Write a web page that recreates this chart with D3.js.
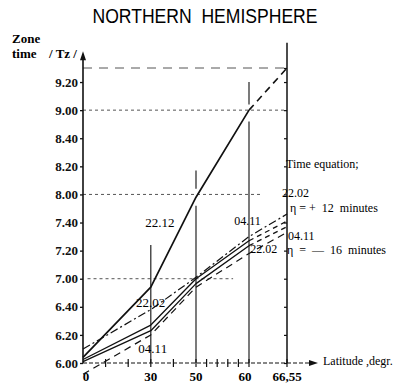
<!DOCTYPE html>
<html><head><meta charset="utf-8">
<script src="https://cdn.jsdelivr.net/npm/d3@7"></script>
<style>body{margin:0;background:#fff} text{white-space:pre}</style>
</head><body><svg id="c" width="400" height="390"></svg>
<script>
// ---- data (latitude in degrees, time in minutes after 6.00 zone time) ----
const latStops = [0, 30, 50, 60, 66.55];
const latLabels = ["0", "30", "50", "60", "66,55"];
const latMinor = [10, 20, 40, 52, 54, 56, 58];
const timeTicks = [0, 20, 40, 60, 80, 100, 120, 140, 160, 180, 200];
const timeLabels = ["6.00", "6.20", "6.40", "7.00", "7.20", "7.40", "8.00", "8.20", "8.40", "9.00", "9.20"];

const dec22Lat = [0, 30, 50, 60];
const dec22 = [4, 54, 118, 180];
const dec22ExtLat = [60, 66.55];
const dec22Ext = [180, 210];

const feb22Lat = [0, 30, 50, 60];
const feb22 = [2.5, 27, 60, 87];
const feb22ExtLat = [60, 66.55];
const feb22Ext = [87, 101];

const nov04Lat = [0, 30, 50, 60];
const nov04 = [1, 23, 56.5, 83.5];
const nov04ExtLat = [60, 66.55];
const nov04Ext = [83.5, 97];

const feb22EqLat = [0, 30, 50, 60, 66.55];
const feb22Eq = [10, 38, 61, 90, 106];
const nov04EqLat = [0, 30, 50, 60, 66.55];
const nov04Eq = [-8, 20, 54, 78, 93];

// grid lines: [time, latFrom, latTo, dash]
const hGrid = [[210, 0, 66.55, "9,7"], [180, 0, 66.55, "3,3"], [120, 0, 62, "3,3"], [60, 2, 57, "3,3"]];
// vertical lines: [lat, timeFrom, timeTo]
const vGrid = [[30, 84, 0], [50, 137, 124], [50, 112, 0], [60, 200, 184], [60, 172, 0]];

// ---- chart ----
const svg = d3.select("#c");
const x = d3.scaleLinear().domain([0, 50, 60, 66.55]).range([83, 196, 249, 287]);
const y = d3.scaleLinear().domain([0, 210]).range([363, 68]);
const serif = "'Liberation Serif','Times New Roman',serif";

svg.append("text").attr("x", 205).attr("y", 23).attr("text-anchor", "middle")
  .attr("font-family", "'Liberation Sans',Arial,sans-serif").attr("font-size", 20)
  .attr("textLength", 225).attr("lengthAdjust", "spacingAndGlyphs")
  .text("NORTHERN  HEMISPHERE");

// horizontal grid
svg.append("g").selectAll("line").data(hGrid).join("line")
  .attr("x1", d => x(d[1])).attr("x2", d => x(d[2]))
  .attr("y1", d => y(d[0])).attr("y2", d => y(d[0]))
  .attr("stroke", "#555").attr("stroke-width", 1).attr("stroke-dasharray", d => d[3]);

// vertical lines
svg.append("g").selectAll("line").data(vGrid).join("line")
  .attr("x1", d => x(d[0])).attr("x2", d => x(d[0]))
  .attr("y1", d => y(d[1])).attr("y2", d => y(d[2]))
  .attr("stroke", "#222").attr("stroke-width", 1.2);

// right boundary line at 66.55
svg.append("line").attr("x1", x(66.55)).attr("x2", x(66.55))
  .attr("y1", y(228)).attr("y2", y(0)).attr("stroke", "#111").attr("stroke-width", 1.5);
const ra = svg.append("g").attr("transform", `translate(${x(66.55)},0)`)
  .call(d3.axisLeft(y).tickValues(timeTicks.concat([210])).tickFormat("").tickSize(3));
ra.select(".domain").remove();
ra.selectAll("line").attr("stroke", "#111").attr("stroke-width", 1.2);

// left axis
svg.append("line").attr("x1", x(0)).attr("x2", x(0)).attr("y1", y(0)).attr("y2", y(218))
  .attr("stroke", "#111").attr("stroke-width", 1.6);
svg.append("path").attr("fill", "#111")
  .attr("d", `M${x(0)},${y(222)} l-3,9 l6,0 z`);
const la = svg.append("g").attr("transform", `translate(${x(0)},0)`)
  .call(d3.axisLeft(y).tickValues(timeTicks).tickFormat((d, i) => timeLabels[i]).tickSize(3).tickPadding(2));
la.select(".domain").remove();
la.selectAll("line").attr("stroke", "#111").attr("stroke-width", 1.3);
la.selectAll("text").attr("font-family", serif).attr("font-size", 13).attr("font-weight", "bold").attr("fill", "#111");

// x axis (dashed with arrow)
svg.append("line").attr("x1", x(0)).attr("x2", 312).attr("y1", y(0)).attr("y2", y(0))
  .attr("stroke", "#111").attr("stroke-width", 1.2).attr("stroke-dasharray", "4,2");
svg.append("path").attr("fill", "#111").attr("d", `M318,${y(0)} l-9,-3 l0,6 z`);
svg.append("g").selectAll("line").data(latStops.slice(1).concat(latMinor)).join("line")
  .attr("x1", d => x(d)).attr("x2", d => x(d)).attr("y1", y(0) - 4).attr("y2", y(0) + 4)
  .attr("stroke", "#111").attr("stroke-width", 1.2);
svg.append("g").selectAll("text").data(latStops).join("text")
  .attr("x", d => x(d)).attr("dx", (d, i) => i === 0 ? 3 : (i === 3 ? -4 : 0))
  .attr("y", 381).attr("text-anchor", "middle")
  .attr("font-family", serif).attr("font-size", 13).attr("font-weight", "bold")
  .text((d, i) => latLabels[i]);

// axis titles
const txt = (t, px, py, size, bold, anchor) => svg.append("text").attr("x", px).attr("y", py)
  .attr("font-family", serif).attr("font-size", size).attr("font-weight", bold ? "bold" : "normal")
  .attr("text-anchor", anchor || "start").attr("fill", "#000").text(t);
txt("Zone", 12, 43, 13, true);
txt("time", 12, 58, 13, true);
txt("/ Tz /", 49, 58, 13, true);
txt("Latitude ,degr.", 323, 365, 12, false);

// series
const line = d3.line().x(d => x(d[0])).y(d => y(d[1]));
const zip = (a, b) => a.map((v, i) => [v, b[i]]);
const draw = (lat, val, w, dash) => svg.append("path").datum(zip(lat, val))
  .attr("d", line).attr("fill", "none").attr("stroke", "#111").attr("stroke-width", w)
  .attr("stroke-dasharray", dash || null).attr("stroke-linejoin", "round");

draw(dec22Lat, dec22, 1.7);
draw(dec22ExtLat, dec22Ext, 1.6, "7,5");
draw(feb22Lat, feb22, 1.3);
draw(feb22ExtLat, feb22Ext, 1.3, "5,4");
draw(nov04Lat, nov04, 1.3);
draw(nov04ExtLat, nov04Ext, 1.3, "5,4");
draw(feb22EqLat, feb22Eq, 1.2, "8,3,2,3");
draw(nov04EqLat, nov04Eq, 1.2, "7,5");

// annotations
txt("22.12", x(27.5), y(97), 13, false);
txt("22.02", x(23.5), y(40), 13, false);
txt("04.11", x(24.5), y(7), 13, false);
txt("04.11", x(57.2), y(98), 12, false);
txt("22.02", x(60.2), y(78), 12, false);
txt("Time equation;", x(66.55) - 1, 168, 12, false);
txt("22.02", 282, 197, 12, false);
txt("\u03B7 = +  12  minutes", 290, 212, 12, false);
txt("04.11", 288, 240, 12, false);
txt("\u03B7  =  \u2014  16  minutes", 287, 254, 12, false);
</script></body></html>
